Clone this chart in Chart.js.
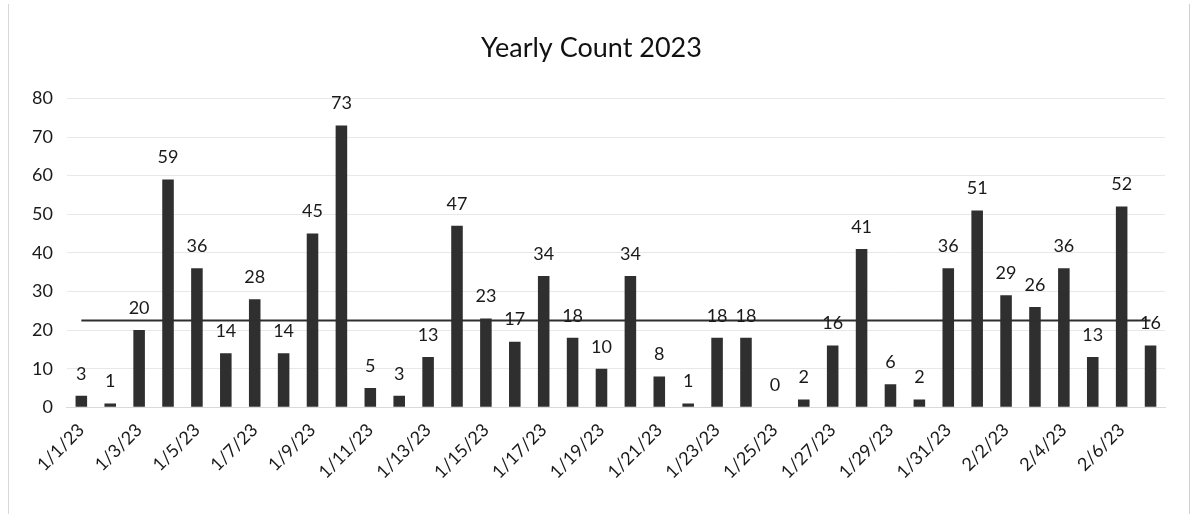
<!DOCTYPE html>
<html>
<head>
<meta charset="utf-8">
<script src="https://cdn.jsdelivr.net/npm/chart.js@4.4.0/dist/chart.umd.min.js"></script>
<style>
    html, body { margin: 0; padding: 0; background: #fff; }
    .wrap { position: relative; width: 1201px; height: 519px; }
    .frame { position: absolute; left: 8px; top: 4px; width: 1182px; height: 510px; border-left: 1px solid #d8d8d8; border-right: 1px solid #d0d0d0; box-sizing: border-box; pointer-events: none; }
</style>
</head>
<body>
<div class="wrap">
    <canvas id="countChart" width="1201" height="519"></canvas>
    <div class="frame"></div>
</div>
<script>
// Chart data
const dateLabels = [
    '1/1/23', '1/2/23', '1/3/23', '1/4/23', '1/5/23', '1/6/23', '1/7/23', '1/8/23',
    '1/9/23', '1/10/23', '1/11/23', '1/12/23', '1/13/23', '1/14/23', '1/15/23', '1/16/23',
    '1/17/23', '1/18/23', '1/19/23', '1/20/23', '1/21/23', '1/22/23', '1/23/23', '1/24/23',
    '1/25/23', '1/26/23', '1/27/23', '1/28/23', '1/29/23', '1/30/23', '1/31/23', '2/1/23',
    '2/2/23', '2/3/23', '2/4/23', '2/5/23', '2/6/23', '2/7/23'
];
const dailyCounts = [
    3, 1, 20, 59, 36, 14, 28, 14, 45, 73, 5, 3, 13, 47, 23, 17, 34, 18, 10, 34,
    8, 1, 18, 18, 0, 2, 16, 41, 6, 2, 36, 51, 29, 26, 36, 13, 52, 16
];
const averageLevel = 22.5;
const yTicks = [0, 10, 20, 30, 40, 50, 60, 70, 80];

const fontFamily = "Lato, 'Open Sans', 'Noto Sans', sans-serif";

// Value labels above each bar
const barValueLabels = {
    id: 'barValueLabels',
    afterDatasetsDraw(chart) {
        const ctx = chart.ctx;
        const meta = chart.getDatasetMeta(1);
        ctx.save();
        ctx.fillStyle = '#1a1a1a';
        ctx.font = '18px ' + fontFamily;
        ctx.textAlign = 'center';
        ctx.textBaseline = 'bottom';
        meta.data.forEach((bar, i) => {
            ctx.fillText(String(dailyCounts[i]), bar.x, bar.y - 13);
        });
        ctx.restore();
    }
};

new Chart(document.getElementById('countChart'), {
    data: {
        labels: dateLabels,
        datasets: [
            {
                type: 'line',
                label: 'Average',
                data: dateLabels.map(() => averageLevel),
                borderColor: '#2e2e2e',
                borderWidth: 2,
                pointRadius: 0,
                order: 0
            },
            {
                type: 'bar',
                label: 'Count',
                data: dailyCounts,
                backgroundColor: '#2f2f2f',
                barPercentage: 0.4,
                categoryPercentage: 1,
                order: 1
            }
        ]
    },
    options: {
        responsive: false,
        animation: false,
        devicePixelRatio: 1,
        layout: { padding: { left: 18, right: 36, top: 10, bottom: 32 } },
        plugins: {
            legend: { display: false },
            tooltip: { enabled: false },
            title: {
                display: true,
                text: 'Yearly Count 2023',
                color: '#111',
                font: { family: fontFamily, size: 27, weight: 'normal' },
                padding: { top: 22, bottom: 34 }
            }
        },
        scales: {
            x: {
                grid: { display: false },
                border: { color: '#d9d9d9' },
                ticks: {
                    autoSkip: false,
                    maxRotation: 45,
                    minRotation: 45,
                    color: '#1a1a1a',
                    font: { family: fontFamily, size: 18 },
                    padding: 4,
                    callback: function(value, index) {
                        return index % 2 === 0 ? dateLabels[index] : '';
                    }
                }
            },
            y: {
                min: 0,
                max: 80,
                afterBuildTicks: axis => { axis.ticks = yTicks.map(v => ({ value: v })); },
                grid: { color: '#e8e8e8', drawTicks: false },
                border: { display: false },
                ticks: {
                    color: '#1a1a1a',
                    font: { family: fontFamily, size: 18 },
                    padding: 14
                }
            }
        }
    },
    plugins: [barValueLabels]
});
</script>
</body>
</html>
